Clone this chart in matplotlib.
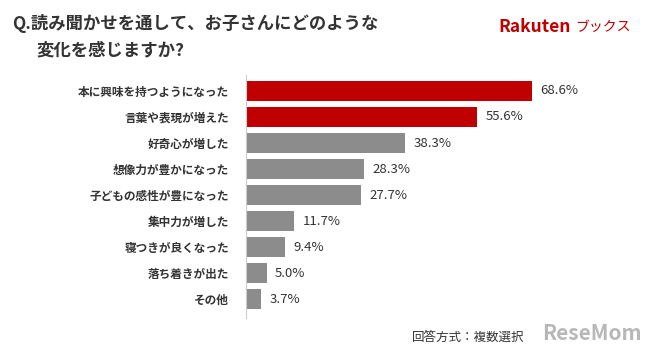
import matplotlib
matplotlib.use("Agg")
import matplotlib.pyplot as plt

plt.rcParams['font.family'] = ['Noto Sans CJK JP', 'DejaVu Sans']

# data
categories = ["本に興味を持つようになった", "言葉や表現が増えた", "好奇心が増した",
              "想像力が豊かになった", "子どもの感性が豊になった", "集中力が増した",
              "寝つきが良くなった", "落ち着きが出た", "その他"]
values = [68.6, 55.6, 38.3, 28.3, 27.7, 11.7, 9.4, 5.0, 3.7]
highlight = [True, True, False, False, False, False, False, False, False]

RED = "#c00000"
GRAY = "#8c8c8c"
TXT = "#333333"

fig = plt.figure(figsize=(6.5, 3.57), dpi=100)
fig.patch.set_facecolor("white")

# axes placed so bars line up with the reference
ax = fig.add_axes([0.378, 0.109, 0.513, 0.681])
ypos = list(range(len(categories)))
colors = [RED if h else GRAY for h in highlight]
bars = ax.barh(ypos, values, height=0.77, color=colors, edgecolor="none")

ax.set_xlim(0, 80)
ax.set_ylim(8.73, -0.615)
ax.set_yticks(ypos)
ax.set_yticklabels(categories, fontsize=8.4, color=TXT, fontweight="bold")
ax.tick_params(axis="y", length=0, pad=12)
ax.set_xticks([])
for s in ["top", "right", "bottom"]:
    ax.spines[s].set_visible(False)
ax.spines["left"].set_color("#cccccc")
ax.spines["left"].set_linewidth(0.8)

for b, v in zip(bars, values):
    ax.annotate(f"{v:.1f}%", (b.get_width(), b.get_y() + b.get_height() / 2),
                xytext=(6, 0), textcoords="offset points",
                va="center", ha="left", fontsize=9.5, color=TXT)

# title
fig.text(0.018, 0.933, "Q.読み聞かせを通して、お子さんにどのような",
         fontsize=12.5, fontweight="bold", color=TXT, va="center")
fig.text(0.056, 0.86, "変化を感じますか?",
         fontsize=12.5, fontweight="bold", color=TXT, va="center")

# logo
fig.text(0.766, 0.924, "Rakuten", fontsize=12.5, fontweight="bold",
         color="#bf0000", va="center")
fig.text(0.885, 0.924, "ブックス", fontsize=10, color="#bf0000", va="center")

# footnote + watermark
fig.text(0.634, 0.056, "回答方式：複数選択", fontsize=9, color=TXT, va="center")
fig.text(0.834, 0.066, "ReseMom", fontsize=15, fontweight="bold",
         color="#888888", alpha=0.6, va="center")

fig.savefig("out.png", dpi=100, facecolor="white")
